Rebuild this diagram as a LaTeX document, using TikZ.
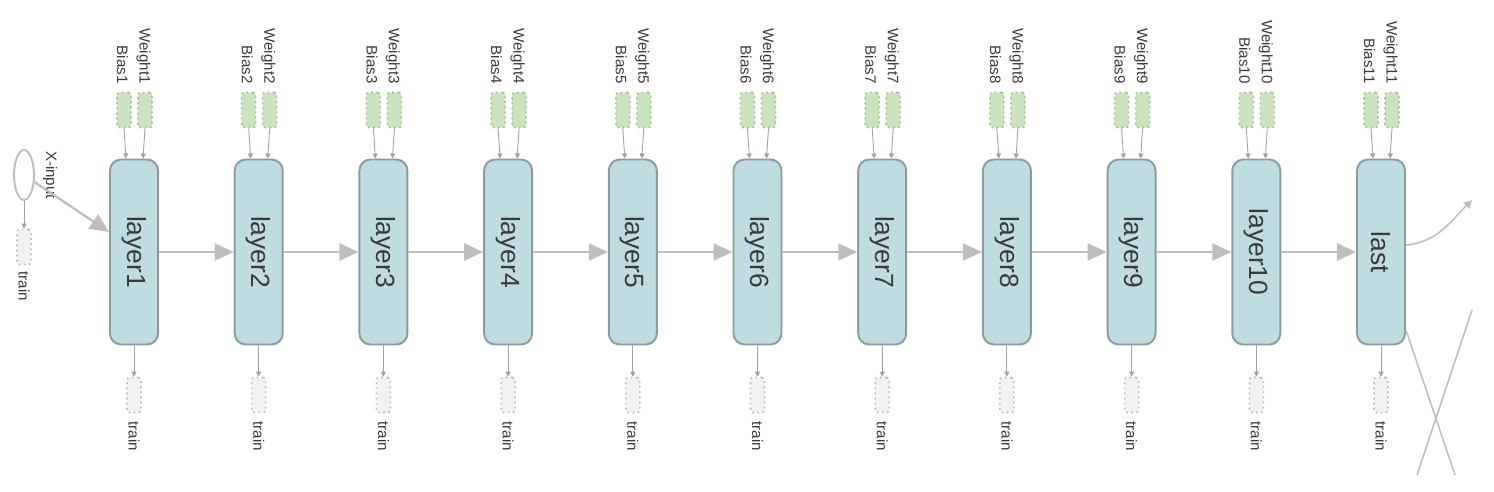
\documentclass[tikz,border=0pt]{standalone}
\usepackage{fontspec}
\setmainfont{Liberation Sans}
\usepackage{graphicx}
\usetikzlibrary{arrows.meta,shapes.geometric}

\definecolor{layerfill}{HTML}{BFDCE0}
\definecolor{layerdraw}{HTML}{8A9C9E}
\definecolor{parfill}{HTML}{CBE3BE}
\definecolor{pardraw}{HTML}{9DBD8C}
\definecolor{trfill}{HTML}{F2F2F4}
\definecolor{trdraw}{HTML}{B8B8B8}
\definecolor{edge}{HTML}{BEBEBE}
\definecolor{txt}{HTML}{3A3A3A}

\begin{document}
\begin{tikzpicture}[
    x=0.02cm, y=-0.02cm,
    layer/.style={rectangle, draw=layerdraw, fill=layerfill, line width=1.1pt, rounded corners=0.22cm, minimum width=0.96cm, minimum height=3.7cm, inner sep=0pt, text=txt, font=\fontsize{15}{18}\selectfont},
    param/.style={rectangle, draw=pardraw, fill=parfill, dotted, line width=0.9pt, rounded corners=0.05cm, minimum width=0.28cm, minimum height=0.7cm, inner sep=0pt},
    trainbox/.style={rectangle, draw=trdraw, fill=trfill, dotted, line width=0.9pt, rounded corners=0.05cm, minimum width=0.28cm, minimum height=0.7cm, inner sep=0pt},
    tag/.style={rotate=-90, inner sep=1pt, text=txt, font=\fontsize{8.6}{10}\selectfont},
    flow/.style={draw=edge, line width=1.3pt, -{Triangle[length=0.38cm, width=0.34cm]}},
    feed/.style={draw=edge!85!black, line width=0.5pt, -{Triangle[length=0.1cm, width=0.1cm]}},
    wire/.style={draw=edge, line width=0.9pt}
]
    \useasboundingbox (0,0) rectangle (1494,491);

    % input
    \node[ellipse, draw=edge, line width=1.1pt, fill=white, minimum width=0.4cm, minimum height=1cm, inner sep=0pt] (xin) at (24,175) {};
    \node[tag, anchor=south] (xinlab) at ([xshift=0.12cm]xin.east) {X-input};
    \node[trainbox] (xtr) at (24,247) {};
    \node[tag, anchor=west] (xtrlab) at ([yshift=-0.08cm]xtr.south) {train};
    \draw[feed] (xin) -- (xtr);

    % layers
    \foreach \lab [count=\i] in {layer1,layer2,layer3,layer4,layer5,layer6,layer7,layer8,layer9,layer10,last} {
        \pgfmathsetmacro{\xc}{134+(\i-1)*124.7}
        \node[layer] (L\i) at (\xc,252) {\rotatebox{-90}{\lab}};
        \node[param] (bias\i) at (\xc-10,110) {};
        \node[param] (wt\i) at (\xc+11,110) {};
        \node[tag, anchor=east] (biaslab\i) at ([xshift=-0.03cm, yshift=0.12cm]bias\i.north) {Bias\i};
        \node[tag, anchor=east] (wtlab\i) at ([xshift=-0.03cm, yshift=0.12cm]wt\i.north) {Weight\i};
        \draw[feed] (bias\i.south) -- ([xshift=-0.16cm]L\i.north);
        \draw[feed] (wt\i.south) -- ([xshift=0.18cm]L\i.north);
        \node[trainbox] (tr\i) at (\xc,395) {};
        \node[tag, anchor=west] (trlab\i) at ([yshift=-0.12cm]tr\i.south) {train};
        \draw[feed] (L\i.south) -- (tr\i.north);
    }
    \foreach \i [evaluate=\i as \j using int(\i+1)] in {1,...,10}
        \draw[flow] (L\i.east) -- (L\j.west);

    \draw[flow] (xin) -- ([yshift=0.4cm]L1.west);

    % outgoing edges
    \coordinate (out1) at (1472,200);
    \coordinate (out2) at (1455,475);
    \coordinate (out3) at (1472,310);
    \coordinate (out4) at (1417,475);
    \draw[wire, -{Triangle[length=0.16cm, width=0.16cm]}] ([yshift=0.14cm]L11.east) to[out=5, in=-135] (out1);
    \draw[wire] ([yshift=-1.56cm]L11.east) -- (out2);
    \draw[wire] (out3) -- (out4);
\end{tikzpicture}
\end{document}
